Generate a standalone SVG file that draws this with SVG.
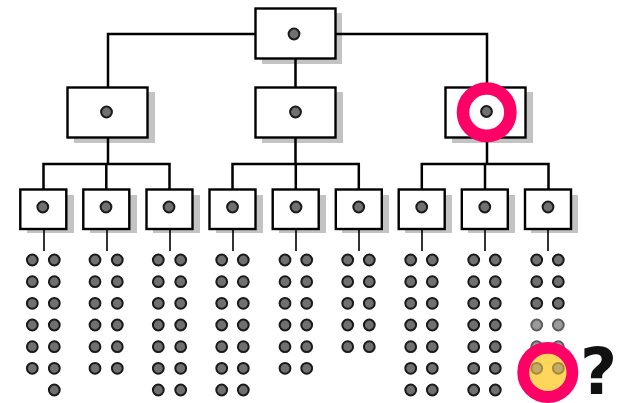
<svg xmlns="http://www.w3.org/2000/svg" width="621" height="403" viewBox="0 0 621 403">
<style>
.sh{fill:#c3c3c3}
.bx{fill:#fff;stroke:#000;stroke-width:2.4}
.d{fill:#707070;stroke:#1a1a1a;stroke-width:2}
.c{fill:none;stroke:#000;stroke-width:2.5}
.l{fill:none;stroke:#000;stroke-width:1.6}
.f{opacity:0.7}
</style>
<defs>
<circle id="dot" r="5.4" class="d"/>
</defs>
<rect width="621" height="403" fill="#fff"/>
<g id="n0"><rect class="sh" x="262" y="13" width="80" height="51"/><rect class="bx" x="255.5" y="8.5" width="80" height="50"/><use href="#dot" x="294" y="34"/></g>
<g id="n1"><rect class="sh" x="74" y="92" width="81" height="51"/><rect class="bx" x="67.5" y="87.5" width="80" height="50"/><use href="#dot" x="106.5" y="112"/></g>
<g id="n2"><rect class="sh" x="262" y="92" width="81" height="51"/><rect class="bx" x="255.5" y="87.5" width="80" height="50"/><use href="#dot" x="295.5" y="112"/></g>
<g id="n3"><rect class="sh" x="452" y="92" width="81" height="51"/><rect class="bx" x="445.5" y="87.5" width="80" height="50"/><use href="#dot" x="486.5" y="111.5"/></g>
<g id="n1a"><rect class="sh" x="27" y="195" width="47" height="38"/><rect class="bx" x="20.3" y="189.5" width="46" height="39.5"/><use href="#dot" x="42.8" y="207"/></g>
<g id="n1b"><rect class="sh" x="90" y="195" width="47" height="38"/><rect class="bx" x="83.3" y="189.5" width="46" height="39.5"/><use href="#dot" x="106" y="207"/></g>
<g id="n1c"><rect class="sh" x="153" y="195" width="47" height="38"/><rect class="bx" x="146.5" y="189.5" width="46" height="39.5"/><use href="#dot" x="169" y="207"/></g>
<g id="n2a"><rect class="sh" x="216" y="195" width="47" height="38"/><rect class="bx" x="209.5" y="189.5" width="46" height="39.5"/><use href="#dot" x="232.5" y="207"/></g>
<g id="n2b"><rect class="sh" x="279" y="195" width="47" height="38"/><rect class="bx" x="272.7" y="189.5" width="46" height="39.5"/><use href="#dot" x="296" y="207"/></g>
<g id="n2c"><rect class="sh" x="342" y="195" width="47" height="38"/><rect class="bx" x="335.8" y="189.5" width="46" height="39.5"/><use href="#dot" x="358.7" y="207"/></g>
<g id="n3a"><rect class="sh" x="405" y="195" width="47" height="38"/><rect class="bx" x="398.7" y="189.5" width="46" height="39.5"/><use href="#dot" x="421.7" y="207"/></g>
<g id="n3b"><rect class="sh" x="468" y="195" width="47" height="38"/><rect class="bx" x="461.8" y="189.5" width="46" height="39.5"/><use href="#dot" x="484.8" y="207"/></g>
<g id="n3c"><rect class="sh" x="531" y="195" width="47" height="38"/><rect class="bx" x="525" y="189.5" width="46" height="39.5"/><use href="#dot" x="548" y="207"/></g>
<g id="connectors">
<path class="c" d="M108,87 V34 H255.5 M335.5,34 H487 V87 M295.5,58.5 V87"/>
<path class="c" d="M108,137.5 V164 M43.5,189.5 V164 H169.5 V189.5 M106.3,164 V189.5"/>
<path class="c" d="M295.5,137.5 V164 M232.5,189.5 V164 H358.8 V189.5 M295.8,164 V189.5"/>
<path class="c" d="M487,137.5 V164 M421.8,189.5 V164 H548.5 V189.5 M485,164 V189.5"/>
<path class="l" d="M44,229 V251 M107,229 V251 M170,229 V251 M233,229 V251 M296,229 V251 M359,229 V251 M422,229 V251 M485,229 V251 M548,229 V251"/>
</g>
<g id="leaves1">
<use href="#dot" x="32.3" y="260"/><use href="#dot" x="54.3" y="260"/>
<use href="#dot" x="32.3" y="281.7"/><use href="#dot" x="54.3" y="281.7"/>
<use href="#dot" x="32.3" y="303.3"/><use href="#dot" x="54.3" y="303.3"/>
<use href="#dot" x="32.3" y="325"/><use href="#dot" x="54.3" y="325"/>
<use href="#dot" x="32.3" y="346.7"/><use href="#dot" x="54.3" y="346.7"/>
<use href="#dot" x="32.3" y="368.3"/><use href="#dot" x="54.3" y="368.3"/>
<use href="#dot" x="54.3" y="390"/>
</g>
<g id="leaves2">
<use href="#dot" x="95" y="260"/><use href="#dot" x="117.3" y="260"/>
<use href="#dot" x="95" y="281.7"/><use href="#dot" x="117.3" y="281.7"/>
<use href="#dot" x="95" y="303.3"/><use href="#dot" x="117.3" y="303.3"/>
<use href="#dot" x="95" y="325"/><use href="#dot" x="117.3" y="325"/>
<use href="#dot" x="95" y="346.7"/><use href="#dot" x="117.3" y="346.7"/>
<use href="#dot" x="95" y="368.3"/><use href="#dot" x="117.3" y="368.3"/>
</g>
<g id="leaves3">
<use href="#dot" x="158.3" y="260"/><use href="#dot" x="180.7" y="260"/>
<use href="#dot" x="158.3" y="281.7"/><use href="#dot" x="180.7" y="281.7"/>
<use href="#dot" x="158.3" y="303.3"/><use href="#dot" x="180.7" y="303.3"/>
<use href="#dot" x="158.3" y="325"/><use href="#dot" x="180.7" y="325"/>
<use href="#dot" x="158.3" y="346.7"/><use href="#dot" x="180.7" y="346.7"/>
<use href="#dot" x="158.3" y="368.3"/><use href="#dot" x="180.7" y="368.3"/>
<use href="#dot" x="158.3" y="390"/><use href="#dot" x="180.7" y="390"/>
</g>
<g id="leaves4">
<use href="#dot" x="221.7" y="260"/><use href="#dot" x="243.3" y="260"/>
<use href="#dot" x="221.7" y="281.7"/><use href="#dot" x="243.3" y="281.7"/>
<use href="#dot" x="221.7" y="303.3"/><use href="#dot" x="243.3" y="303.3"/>
<use href="#dot" x="221.7" y="325"/><use href="#dot" x="243.3" y="325"/>
<use href="#dot" x="221.7" y="346.7"/><use href="#dot" x="243.3" y="346.7"/>
<use href="#dot" x="221.7" y="368.3"/><use href="#dot" x="243.3" y="368.3"/>
<use href="#dot" x="221.7" y="390"/><use href="#dot" x="243.3" y="390"/>
</g>
<g id="leaves5">
<use href="#dot" x="285" y="260"/><use href="#dot" x="306.7" y="260"/>
<use href="#dot" x="285" y="281.7"/><use href="#dot" x="306.7" y="281.7"/>
<use href="#dot" x="285" y="303.3"/><use href="#dot" x="306.7" y="303.3"/>
<use href="#dot" x="285" y="325"/><use href="#dot" x="306.7" y="325"/>
<use href="#dot" x="285" y="346.7"/><use href="#dot" x="306.7" y="346.7"/>
<use href="#dot" x="285" y="368.3"/><use href="#dot" x="306.7" y="368.3"/>
</g>
<g id="leaves6">
<use href="#dot" x="347.7" y="260"/><use href="#dot" x="369.3" y="260"/>
<use href="#dot" x="347.7" y="281.7"/><use href="#dot" x="369.3" y="281.7"/>
<use href="#dot" x="347.7" y="303.3"/><use href="#dot" x="369.3" y="303.3"/>
<use href="#dot" x="347.7" y="325"/><use href="#dot" x="369.3" y="325"/>
<use href="#dot" x="347.7" y="346.7"/><use href="#dot" x="369.3" y="346.7"/>
</g>
<g id="leaves7">
<use href="#dot" x="410.7" y="260"/><use href="#dot" x="432.3" y="260"/>
<use href="#dot" x="410.7" y="281.7"/><use href="#dot" x="432.3" y="281.7"/>
<use href="#dot" x="410.7" y="303.3"/><use href="#dot" x="432.3" y="303.3"/>
<use href="#dot" x="410.7" y="325"/><use href="#dot" x="432.3" y="325"/>
<use href="#dot" x="410.7" y="346.7"/><use href="#dot" x="432.3" y="346.7"/>
<use href="#dot" x="410.7" y="368.3"/><use href="#dot" x="432.3" y="368.3"/>
<use href="#dot" x="410.7" y="390"/><use href="#dot" x="432.3" y="390"/>
</g>
<g id="leaves8">
<use href="#dot" x="473.7" y="260"/><use href="#dot" x="495.3" y="260"/>
<use href="#dot" x="473.7" y="281.7"/><use href="#dot" x="495.3" y="281.7"/>
<use href="#dot" x="473.7" y="303.3"/><use href="#dot" x="495.3" y="303.3"/>
<use href="#dot" x="473.7" y="325"/><use href="#dot" x="495.3" y="325"/>
<use href="#dot" x="473.7" y="346.7"/><use href="#dot" x="495.3" y="346.7"/>
<use href="#dot" x="473.7" y="368.3"/><use href="#dot" x="495.3" y="368.3"/>
<use href="#dot" x="473.7" y="390"/><use href="#dot" x="495.3" y="390"/>
</g>
<g id="leaves9">
<use href="#dot" x="536.7" y="260"/><use href="#dot" x="558.3" y="260"/>
<use href="#dot" x="536.7" y="281.7"/><use href="#dot" x="558.3" y="281.7"/>
<use href="#dot" x="536.7" y="303.3"/><use href="#dot" x="558.3" y="303.3"/>
<g class="f"><use href="#dot" x="536.7" y="325"/><use href="#dot" x="558.3" y="325"/>
<use href="#dot" x="536.7" y="346.7"/><use href="#dot" x="558.3" y="346.7"/></g>
</g>
<g id="highlight-top"><circle cx="486.7" cy="112.2" r="23.7" fill="none" stroke="#ff0066" stroke-width="12.6"/></g>
<g id="highlight-missing">
<circle cx="547.8" cy="372.4" r="24.6" fill="#ffd65c" stroke="#ff0066" stroke-width="11.8"/>
<g opacity="0.4"><use href="#dot" x="536.7" y="368.3"/><use href="#dot" x="558.3" y="368.3"/></g>
<text x="598.5" y="394" font-family="DejaVu Sans, sans-serif" font-weight="bold" font-size="64" text-anchor="middle" fill="#111">?</text>
</g>
</svg>
